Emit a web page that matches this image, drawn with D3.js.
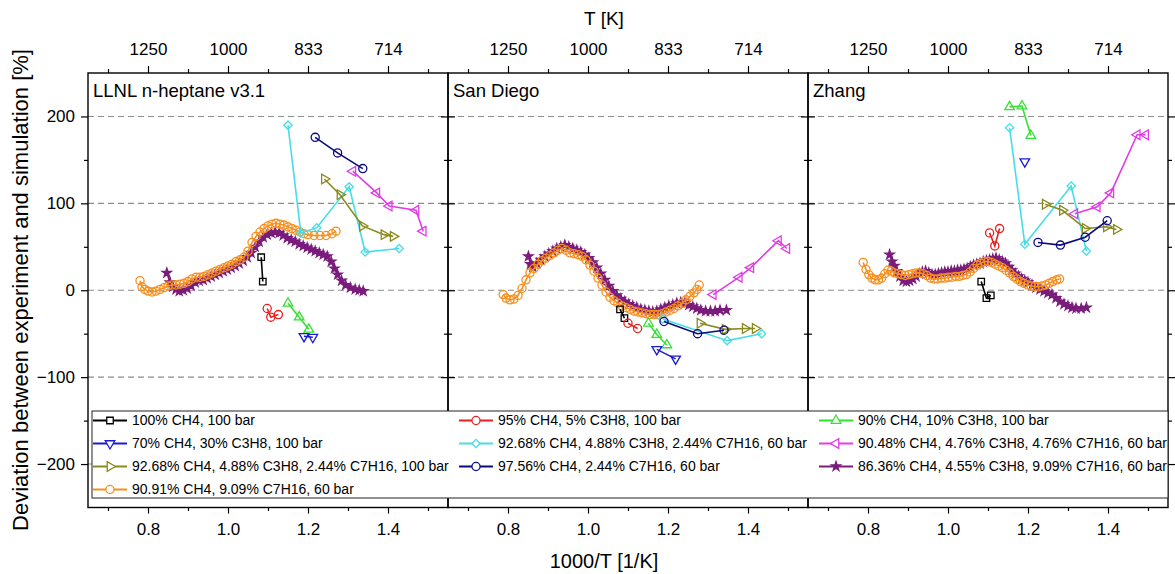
<!DOCTYPE html>
<html>
<head>
<meta charset="utf-8">
<script src="https://cdn.jsdelivr.net/npm/d3@7"></script>
<style>
  body { margin: 0; background: #fff; }
  svg { display: block; font-family: "Liberation Sans", Arial, sans-serif; }
</style>
</head>
<body>
<div id="chart"></div>
<script>
'use strict'

// panel titles and tick labels
const panelNames = ["LLNL n-heptane v3.1", "San Diego", "Zhang"];
const xMajor = [0.8, 1.0, 1.2, 1.4];
const xMinor = [0.7, 0.9, 1.1, 1.3, 1.5];
const tempLabels = ["1250", "1000", "833", "714"];
const yMajor = [-200, -100, 0, 100, 200];
const yMinor = [-150, -50, 50, 150];

// legend order (row by row, three columns)
const seriesLabels = [
    "100% CH4, 100 bar",
    "95% CH4, 5% C3H8, 100 bar",
    "90% CH4, 10% C3H8, 100 bar",
    "70% CH4, 30% C3H8, 100 bar",
    "92.68% CH4, 4.88% C3H8, 2.44% C7H16, 60 bar",
    "90.48% CH4, 4.76% C3H8, 4.76% C7H16, 60 bar",
    "92.68% CH4, 4.88% C3H8, 2.44% C7H16, 100 bar",
    "97.56% CH4, 2.44% C7H16, 60 bar",
    "86.36% CH4, 4.55% C3H8, 9.09% C7H16, 60 bar",
    "90.91% CH4, 9.09% C7H16, 60 bar"
];
const seriesColors = ["#000000", "#e5201f", "#35e035", "#1c1cd2", "#48dde6",
    "#e23ce6", "#8a8a1c", "#0b0b7e", "#7a1c7c", "#f78f1f"];
const seriesSymbols = ["square", "circle", "triUp", "triDown", "diamond",
    "triLeft", "triRight", "circle", "star", "circle"];

// ---- LLNL n-heptane v3.1 : [1000/T, deviation %]
const llnl_ch4_100 = [[1.083, 38], [1.087, 10]];
const llnl_c3_95 = [[1.098, -21], [1.107, -31], [1.126, -28]];
const llnl_c3_90 = [[1.150, -15], [1.178, -31], [1.202, -45]];
const llnl_c3_70 = [[1.190, -53], [1.212, -54]];
const llnl_mix_60 = [[1.150, 190], [1.182, 66], [1.222, 72], [1.303, 119], [1.343, 44], [1.428, 48]];
const llnl_mix476_60 = [[1.312, 137], [1.372, 112], [1.403, 97], [1.470, 92], [1.488, 68]];
const llnl_mix_100 = [[1.241, 128], [1.280, 110], [1.336, 74], [1.390, 64], [1.413, 62]];
const llnl_c7_97_60 = [[1.218, 176], [1.274, 158], [1.337, 140]];
const llnl_mix909_60 = [[0.847, 20], [0.855, 9], [0.862, 4], [0.870, 1], [0.878, -1], [0.888, 0],
    [0.898, 2], [0.908, 5], [0.918, 9], [0.928, 11], [0.938, 12], [0.948, 14], [0.958, 16],
    [0.968, 18], [0.978, 20], [0.988, 22], [0.998, 24], [1.008, 26], [1.018, 28], [1.028, 31],
    [1.038, 34], [1.048, 38], [1.058, 43], [1.068, 50], [1.078, 56], [1.088, 61], [1.098, 64],
    [1.108, 66], [1.118, 67], [1.128, 66], [1.138, 63], [1.148, 60], [1.158, 58], [1.168, 56],
    [1.178, 53], [1.188, 51], [1.198, 49], [1.208, 47], [1.218, 45], [1.228, 43], [1.238, 41],
    [1.248, 39], [1.258, 33], [1.266, 25], [1.274, 18], [1.284, 11], [1.294, 6], [1.306, 3],
    [1.318, 1], [1.328, 0], [1.338, -1]];
const llnl_c7_91_60 = [[0.780, 11], [0.785, 4], [0.792, 1], [0.800, -1], [0.810, -2], [0.820, -1],
    [0.830, 1], [0.840, 3], [0.850, 5], [0.860, 6], [0.870, 6], [0.880, 7], [0.890, 8], [0.900, 10],
    [0.910, 13], [0.920, 15], [0.930, 15], [0.940, 16], [0.950, 18], [0.960, 20], [0.970, 22],
    [0.980, 24], [0.990, 26], [1.000, 28], [1.010, 30], [1.020, 33], [1.030, 35], [1.040, 38],
    [1.050, 45], [1.060, 55], [1.070, 62], [1.080, 67], [1.090, 71], [1.100, 74], [1.110, 76],
    [1.120, 77], [1.130, 76], [1.140, 75], [1.150, 73], [1.160, 71], [1.170, 69], [1.180, 67],
    [1.190, 65], [1.200, 64], [1.215, 63], [1.230, 63], [1.245, 63], [1.260, 65], [1.270, 68]];

// ---- San Diego
const sd_ch4_100 = [[1.080, -22], [1.091, -32]];
const sd_c3_95 = [[1.100, -38], [1.124, -44]];
const sd_c3_90 = [[1.151, -38], [1.172, -51], [1.197, -63]];
const sd_c3_70 = [[1.172, -68], [1.219, -79]];
const sd_mix_60 = [[1.187, -33], [1.348, -58], [1.434, -50]];
const sd_mix476_60 = [[1.313, -5], [1.378, 15], [1.407, 26], [1.476, 57], [1.497, 48]];
const sd_mix_100 = [[1.280, -38], [1.343, -45], [1.393, -44], [1.418, -44]];
const sd_c7_97_60 = [[1.190, -36], [1.274, -50], [1.340, -46]];
const sd_mix909_60 = [[0.851, 39], [0.856, 30], [0.862, 27], [0.872, 31], [0.882, 35], [0.892, 39],
    [0.902, 42], [0.912, 45], [0.922, 48], [0.932, 50], [0.942, 52], [0.952, 50], [0.962, 48],
    [0.972, 46], [0.982, 44], [0.992, 41], [1.002, 37], [1.012, 32], [1.022, 26], [1.032, 19],
    [1.042, 12], [1.052, 5], [1.062, -1], [1.072, -6], [1.082, -10], [1.092, -13], [1.102, -16],
    [1.112, -18], [1.122, -20], [1.132, -22], [1.142, -23], [1.152, -24], [1.162, -25], [1.172, -24],
    [1.182, -22], [1.192, -20], [1.202, -18], [1.212, -17], [1.222, -15], [1.232, -14], [1.242, -15],
    [1.252, -17], [1.262, -19], [1.272, -21], [1.282, -23], [1.294, -24], [1.306, -24], [1.318, -24],
    [1.330, -23], [1.346, -23]];
const sd_c7_91_60 = [[0.788, -5], [0.795, -9], [0.805, -11], [0.815, -10], [0.825, -6], [0.835, 2],
    [0.845, 12], [0.855, 20], [0.865, 25], [0.875, 30], [0.885, 34], [0.895, 37], [0.905, 40],
    [0.915, 43], [0.925, 46], [0.935, 48], [0.945, 46], [0.955, 43], [0.965, 42], [0.975, 41],
    [0.985, 39], [0.995, 35], [1.005, 29], [1.015, 22], [1.025, 14], [1.035, 6], [1.045, -2],
    [1.055, -8], [1.065, -12], [1.075, -15], [1.085, -18], [1.095, -20], [1.105, -22], [1.115, -24],
    [1.125, -25], [1.135, -26], [1.145, -27], [1.155, -28], [1.165, -28], [1.175, -28], [1.185, -27],
    [1.195, -25], [1.205, -23], [1.215, -21], [1.225, -18], [1.235, -15], [1.245, -11], [1.255, -7],
    [1.265, -3], [1.272, 1], [1.278, 6]];

// ---- Zhang
const zhang_ch4_100 = [[1.083, 10], [1.096, -9], [1.107, -6]];
const zhang_c3_95 = [[1.104, 66], [1.117, 51], [1.129, 71]];
const zhang_c3_90 = [[1.154, 211], [1.185, 212], [1.207, 178]];
const zhang_c3_70 = [[1.192, 148]];
const zhang_mix_60 = [[1.154, 187], [1.192, 53], [1.308, 120], [1.346, 45]];
const zhang_mix476_60 = [[1.317, 88], [1.373, 96], [1.407, 112], [1.473, 179], [1.494, 179]];
const zhang_mix_100 = [[1.243, 99], [1.286, 92], [1.343, 71], [1.396, 73], [1.421, 70]];
const zhang_c7_97_60 = [[1.225, 55], [1.281, 52], [1.343, 61], [1.398, 80]];
const zhang_mix909_60 = [[0.854, 41], [0.860, 33], [0.866, 28], [0.872, 22], [0.880, 16], [0.888, 11],
    [0.896, 10], [0.904, 11], [0.912, 13], [0.920, 16], [0.928, 19], [0.936, 21], [0.944, 22],
    [0.952, 20], [0.960, 18], [0.968, 18], [0.976, 19], [0.984, 20], [0.992, 21], [1.000, 21],
    [1.008, 22], [1.016, 22], [1.024, 23], [1.032, 23], [1.040, 24], [1.048, 25], [1.056, 27],
    [1.064, 29], [1.072, 30], [1.080, 31], [1.088, 33], [1.096, 34], [1.104, 35], [1.112, 36],
    [1.120, 37], [1.128, 35], [1.136, 33], [1.144, 31], [1.152, 27], [1.160, 23], [1.168, 19],
    [1.176, 16], [1.184, 13], [1.192, 11], [1.200, 9], [1.210, 6], [1.220, 3], [1.230, 1],
    [1.240, -1], [1.250, -3], [1.260, -5], [1.270, -9], [1.280, -13], [1.290, -16], [1.300, -18],
    [1.310, -20], [1.320, -21], [1.333, -21], [1.346, -20]];
const zhang_c7_91_60 = [[0.788, 32], [0.795, 24], [0.802, 18], [0.810, 14], [0.818, 12], [0.826, 12],
    [0.834, 14], [0.842, 19], [0.850, 23], [0.858, 22], [0.866, 20], [0.875, 19], [0.884, 18],
    [0.893, 17], [0.902, 18], [0.911, 19], [0.920, 20], [0.929, 20], [0.938, 19], [0.947, 17],
    [0.956, 14], [0.965, 13], [0.974, 13], [0.983, 14], [0.992, 14], [1.001, 15], [1.010, 15],
    [1.019, 16], [1.028, 16], [1.037, 17], [1.046, 18], [1.055, 21], [1.064, 25], [1.073, 29],
    [1.082, 31], [1.091, 33], [1.100, 33], [1.109, 32], [1.118, 30], [1.127, 28], [1.136, 26],
    [1.145, 23], [1.154, 20], [1.163, 16], [1.172, 13], [1.181, 10], [1.190, 8], [1.199, 6],
    [1.208, 5], [1.217, 4], [1.226, 4], [1.235, 5], [1.244, 6], [1.253, 8], [1.262, 10],
    [1.272, 12], [1.279, 13]];

// one row per panel, series in legend order
const panelData = [
    [llnl_ch4_100, llnl_c3_95, llnl_c3_90, llnl_c3_70, llnl_mix_60, llnl_mix476_60,
        llnl_mix_100, llnl_c7_97_60, llnl_mix909_60, llnl_c7_91_60],
    [sd_ch4_100, sd_c3_95, sd_c3_90, sd_c3_70, sd_mix_60, sd_mix476_60,
        sd_mix_100, sd_c7_97_60, sd_mix909_60, sd_c7_91_60],
    [zhang_ch4_100, zhang_c3_95, zhang_c3_90, zhang_c3_70, zhang_mix_60, zhang_mix476_60,
        zhang_mix_100, zhang_c7_97_60, zhang_mix909_60, zhang_c7_91_60]
];
// dense curves first, the sparse sets on top
const drawOrder = [8, 9, 0, 1, 2, 3, 4, 5, 6, 7];

const width = 1175;
const height = 574;
const margin = { top: 73, left: 88, bottom: 507.5 };
const panelWidth = 360;
const plotHeight = margin.bottom - margin.top;

const svg = d3.select("#chart")
    .append("svg")
    .attr("width", width)
    .attr("height", height);

const x = d3.scaleLinear().domain([0.65, 1.55]).range([0, panelWidth]);
const y = d3.scaleLinear().domain([-250, 250]).range([plotHeight, 0]);

function symbolPath(kind) {
    const shapes = {
        square: [d3.symbolSquare, 42, 0],
        circle: [d3.symbolCircle, 52, 0],
        triUp: [d3.symbolTriangle, 40, 0],
        triDown: [d3.symbolTriangle, 40, 180],
        triRight: [d3.symbolTriangle, 40, 90],
        triLeft: [d3.symbolTriangle, 40, -90],
        diamond: [d3.symbolSquare, 34, 45],
        star: [d3.symbolStar, 26, 0]
    };
    const s = shapes[kind];
    return { d: d3.symbol().type(s[0]).size(s[1])(), rot: s[2] };
}

function styleAxis(g) {
    g.select(".domain").remove();
    g.selectAll("line").attr("stroke", "#000").attr("stroke-width", 1.2);
    g.selectAll("text").attr("fill", "#000").style("font-family", '"Liberation Sans", Arial, sans-serif');
}

panelNames.forEach((name, p) => {
    const g = svg.append("g")
        .attr("transform", `translate(${margin.left + p * panelWidth},${margin.top})`);

    // dashed grid
    g.selectAll(".grid")
        .data(yMajor)
        .enter().append("line")
        .attr("x1", 0).attr("x2", panelWidth)
        .attr("y1", d => y(d)).attr("y2", d => y(d))
        .attr("stroke", "#8c8c8c")
        .attr("stroke-width", 1.1)
        .attr("stroke-dasharray", "6,4");

    // bottom axis
    g.append("g")
        .attr("transform", `translate(0,${plotHeight})`)
        .call(d3.axisBottom(x).tickValues(xMajor).tickSize(6).tickPadding(9).tickFormat(d3.format(".1f")))
        .call(styleAxis)
        .selectAll("text").style("font-size", "17px");
    g.append("g")
        .attr("transform", `translate(0,${plotHeight})`)
        .call(d3.axisBottom(x).tickValues(xMinor).tickSize(3.5).tickFormat(""))
        .call(styleAxis);

    // top axis in temperature
    g.append("g")
        .call(d3.axisTop(x).tickValues(xMajor).tickSize(7).tickPadding(11).tickFormat((d, i) => tempLabels[i]))
        .call(styleAxis)
        .selectAll("text").style("font-size", "17px");
    g.append("g")
        .call(d3.axisTop(x).tickValues(xMinor).tickSize(4).tickFormat(""))
        .call(styleAxis);

    // y ticks on the left edge
    if (p === 0) {
        g.append("g")
            .call(d3.axisLeft(y).tickValues(yMajor).tickSize(7).tickPadding(6))
            .call(styleAxis)
            .selectAll("text").style("font-size", "17px");
        g.append("g")
            .call(d3.axisLeft(y).tickValues(yMinor).tickSize(4).tickFormat(""))
            .call(styleAxis);
    } else {
        [d3.axisLeft, d3.axisRight].forEach(ax => {
            g.append("g").call(ax(y).tickValues(yMajor).tickSize(7).tickFormat("")).call(styleAxis);
            g.append("g").call(ax(y).tickValues(yMinor).tickSize(4).tickFormat("")).call(styleAxis);
        });
    }
    if (p === panelNames.length - 1) {
        g.append("g").attr("transform", `translate(${panelWidth},0)`)
            .call(d3.axisRight(y).tickValues(yMajor).tickSize(7).tickFormat("")).call(styleAxis);
        g.append("g").attr("transform", `translate(${panelWidth},0)`)
            .call(d3.axisRight(y).tickValues(yMinor).tickSize(4).tickFormat("")).call(styleAxis);
    }

    // series
    const line = d3.line().x(d => x(d[0])).y(d => y(d[1]));
    drawOrder.forEach(i => {
        const pts = panelData[p][i];
        const col = seriesColors[i];
        const sym = symbolPath(seriesSymbols[i]);
        const s = g.append("g");
        s.append("path")
            .datum(pts)
            .attr("d", line)
            .attr("fill", "none")
            .attr("stroke", col)
            .attr("stroke-width", 1.6);
        s.selectAll("path.mk")
            .data(pts)
            .enter().append("path")
            .attr("class", "mk")
            .attr("d", sym.d)
            .attr("transform", d => `translate(${x(d[0])},${y(d[1])}) rotate(${sym.rot})`)
            .attr("fill", seriesSymbols[i] === "star" ? col : "none")
            .attr("stroke", col)
            .attr("stroke-width", 1.3);
    });

    // frame
    g.append("rect")
        .attr("width", panelWidth)
        .attr("height", plotHeight)
        .attr("fill", "none")
        .attr("stroke", "#000")
        .attr("stroke-width", 1.4);

    g.append("text")
        .attr("x", 5)
        .attr("y", 24)
        .style("font-size", "18.5px")
        .text(name);
});

// legend
const legendBox = { x: 92, y: 411, w: 1076, h: 87 };
const legendCols = [93, 459, 819];
const legendRowY = d3.range(4).map(r => legendBox.y + 9.5 + r * 23);

svg.append("rect")
    .attr("x", legendBox.x).attr("y", legendBox.y)
    .attr("width", legendBox.w).attr("height", legendBox.h)
    .attr("fill", "#fff")
    .attr("stroke", "#222")
    .attr("stroke-width", 1);

const legend = svg.selectAll(".legend")
    .data(seriesLabels)
    .enter().append("g")
    .attr("class", "legend")
    .attr("transform", (d, i) => `translate(${legendCols[i % 3]},${legendRowY[Math.floor(i / 3)]})`);

legend.append("line")
    .attr("x1", 0).attr("x2", 34)
    .attr("stroke", (d, i) => seriesColors[i])
    .attr("stroke-width", 1.8);

legend.append("path")
    .attr("d", (d, i) => symbolPath(seriesSymbols[i]).d)
    .attr("transform", (d, i) => `translate(17,0) rotate(${symbolPath(seriesSymbols[i]).rot})`)
    .attr("fill", (d, i) => seriesSymbols[i] === "star" ? seriesColors[i] : "#fff")
    .attr("stroke", (d, i) => seriesColors[i])
    .attr("stroke-width", 1.3);

legend.append("text")
    .attr("x", 39)
    .attr("dy", "0.35em")
    .style("font-size", "14px")
    .text(d => d);

// axis titles
svg.append("text")
    .attr("x", 604)
    .attr("y", 568)
    .attr("text-anchor", "middle")
    .style("font-size", "20px")
    .text("1000/T [1/K]");

svg.append("text")
    .attr("x", 604)
    .attr("y", 25)
    .attr("text-anchor", "middle")
    .style("font-size", "19px")
    .text("T [K]");

svg.append("text")
    .attr("transform", "translate(28,290) rotate(-90)")
    .attr("text-anchor", "middle")
    .style("font-size", "22px")
    .text("Deviation between experiment and simulation [%]");
</script>
</body>
</html>
